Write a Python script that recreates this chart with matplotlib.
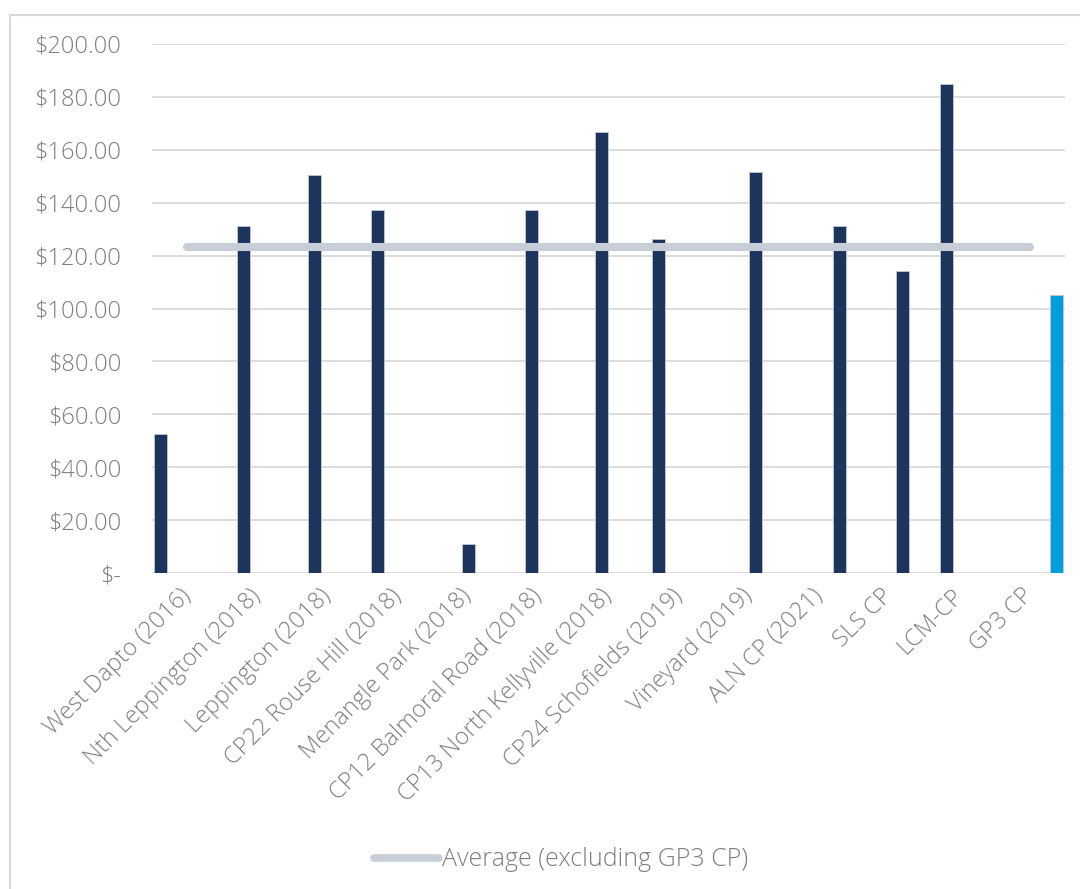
import numpy as np
import matplotlib.pyplot as plt
from matplotlib.patches import Rectangle
from matplotlib.lines import Line2D

plt.rcParams['font.family'] = ['Open Sans', 'DejaVu Sans']
plt.rcParams['font.weight'] = 'light'

categories = ['West Dapto (2016)', 'Nth Leppington (2018)', 'Leppington (2018)',
              'CP22 Rouse Hill (2018)', 'Menangle Park (2018)', 'CP12 Balmoral Road (2018)',
              'CP13 North Kellyville (2018)', 'CP24 Schofields (2019)', 'Vineyard (2019)',
              'ALN CP (2021)', 'SLS CP', 'LCM-CP', 'GP3 CP']
values = [52.4, 131.2, 150.5, 137.1, 11.0, 137.2, 166.8, 126.3, 151.5, 131.3, 114.3, 184.9, 105.1]
# which Excel series each value sits in (series drawn side by side, overlapping)
series_slot = [0, 2, 2, 1, 4, 3, 3, 1, 5, 7, 6, 2, 8]
average = 123.2
avg_label = 'Average (excluding GP3 CP)'

navy = '#1d355d'
blue = '#009fdb'
avg_col = '#c8ced8'
grey_txt = '#7f7f7f'

fig = plt.figure(figsize=(10.8, 8.89), dpi=100)
ax = fig.add_axes([152/1080, 1-573/889, (1065-152)/1080, (573-44)/889])

x = np.arange(len(categories))
n_slots = 9
step = 0.096
offsets = (np.array(series_slot) - (n_slots - 1) / 2) * step
colors = [navy] * (len(categories) - 1) + [blue]
ax.bar(x + offsets, values, width=0.185, color=colors, edgecolor='#c0c8d6',
       linewidth=0.6, zorder=2)

ax.plot([x[0], x[-1]], [average, average], color=avg_col, lw=5.8,
        solid_capstyle='round', zorder=3)

ax.set_xlim(-0.5, len(categories) - 0.5)
ax.set_ylim(0, 200)
yt = np.arange(0, 201, 20)
ax.set_yticks(yt)
ax.set_yticklabels(['$-' if v == 0 else f'${v:.2f}' for v in yt])
ax.set_xticks(x)
ax.set_xticklabels(categories, rotation=45, ha='right', va='center',
                   rotation_mode='anchor')
ax.tick_params(axis='y', length=0, pad=22, labelsize=17, labelcolor=grey_txt)
ax.tick_params(axis='x', length=0, pad=14, labelsize=17, labelcolor=grey_txt)
ax.grid(axis='y', color='#d9d9d9', lw=1.3, zorder=0)
ax.set_axisbelow(True)
for s in ax.spines.values():
    s.set_visible(False)

# chart area border
fig.patches.append(Rectangle((10/1080, -0.05), 1.1, 1 - 15/889 + 0.05,
                             transform=fig.transFigure, fill=False,
                             edgecolor='#d9d9d9', lw=1.5))

handle = Line2D([], [], color=avg_col, lw=5.5, solid_capstyle='round')
fig.legend([handle], [avg_label], loc='center', bbox_to_anchor=(561/1080, 1-860/889),
           frameon=False, fontsize=18, labelcolor=grey_txt, handlelength=2.6,
           handletextpad=0.15)

fig.savefig('out.png', dpi=100)
